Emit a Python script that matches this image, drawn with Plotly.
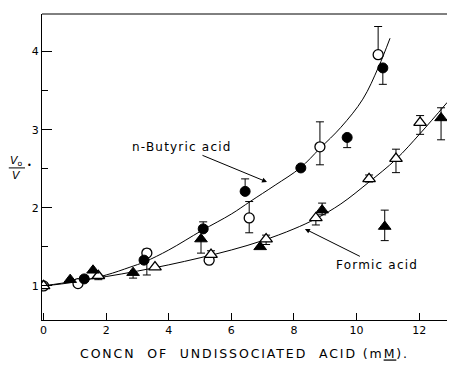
import plotly.graph_objects as go

# Filled circles: n-Butyric acid
bf_x = [1.3, 3.21, 5.1, 6.44, 8.22, 9.7, 10.84]
bf_y = [1.09, 1.33, 1.73, 2.21, 2.51, 2.90, 3.79]
bf_up = [0, 0, 0.09, 0.16, 0, 0, 0]
bf_dn = [0, 0, 0, 0, 0, 0.13, 0.21]

# Open circles: n-Butyric acid
bo_x = [0.0, 1.1, 3.3, 5.29, 6.57, 8.83, 10.69]
bo_y = [1.0, 1.03, 1.42, 1.33, 1.87, 2.78, 3.96]
bo_up = [0, 0, 0.05, 0, 0.21, 0.32, 0.36]
bo_dn = [0, 0, 0.28, 0, 0.19, 0.23, 0]

# Filled triangles: Formic acid
ff_x = [0.85, 1.58, 2.86, 5.03, 6.92, 8.9, 10.9, 12.7]
ff_y = [1.08, 1.20, 1.17, 1.60, 1.50, 1.97, 1.76, 3.15]
ff_up = [0, 0, 0, 0, 0, 0.09, 0.21, 0.13]
ff_dn = [0, 0, 0.07, 0.18, 0, 0.06, 0.18, 0.28]

# Open triangles: Formic acid
fo_x = [0.0, 1.75, 3.56, 5.35, 7.11, 8.7, 10.4, 11.26, 12.03]
fo_y = [1.0, 1.13, 1.24, 1.40, 1.60, 1.87, 2.37, 2.63, 3.09]
fo_up = [0, 0, 0, 0.05, 0.05, 0, 0.05, 0.12, 0.09]
fo_dn = [0, 0.05, 0, 0, 0.07, 0.09, 0.04, 0.18, 0.15]

# Fitted curves
bc_x = [0, 1, 2, 2.76, 3.24, 4, 5.06, 6, 6.6, 7.4, 8.2, 8.83, 9.5, 10.2, 10.7, 11.07]
bc_y = [1, 1.05, 1.14, 1.24, 1.31, 1.46, 1.71, 1.92, 2.08, 2.29, 2.51, 2.76, 3.03, 3.39, 3.8, 4.17]
fc_x = [0, 1, 2, 3, 4, 5, 6, 7, 8, 8.7, 9.5, 10.4, 11.26, 12.03, 12.9]
fc_y = [1, 1.06, 1.12, 1.19, 1.27, 1.36, 1.46, 1.58, 1.73, 1.86, 2.05, 2.33, 2.62, 2.95, 3.35]

x_ticks = [0, 2, 4, 6, 8, 10, 12]
y_ticks = [1, 2, 3, 4]

FONT = "DejaVu Sans"
fig = go.Figure()

fig.add_trace(go.Scatter(x=bc_x, y=bc_y, mode="lines", line=dict(color="black", width=1, shape="spline"), hoverinfo="skip"))
fig.add_trace(go.Scatter(x=fc_x, y=fc_y, mode="lines", line=dict(color="black", width=1, shape="spline"), hoverinfo="skip"))

def err(up, dn):
    return dict(type="data", symmetric=False, array=up, arrayminus=dn,
                color="black", thickness=1, width=4)

fig.add_trace(go.Scatter(x=bo_x, y=bo_y, mode="markers", error_y=err(bo_up, bo_dn),
                         marker=dict(symbol="circle", size=10, color="white", line=dict(color="black", width=1.3))))
fig.add_trace(go.Scatter(x=fo_x, y=fo_y, mode="markers", error_y=err(fo_up, fo_dn),
                         marker=dict(symbol="triangle-up", size=11, color="white", line=dict(color="black", width=1.3))))
fig.add_trace(go.Scatter(x=bf_x, y=bf_y, mode="markers", error_y=err(bf_up, bf_dn),
                         marker=dict(symbol="circle", size=10, color="black", line=dict(color="black", width=1))))
fig.add_trace(go.Scatter(x=ff_x, y=ff_y, mode="markers", error_y=err(ff_up, ff_dn),
                         marker=dict(symbol="triangle-up", size=11, color="black", line=dict(color="black", width=1))))

def spaced(t, px):
    return f'<span style="letter-spacing:{px}px">{t}</span>'

fig.update_layout(
    width=450, height=365,
    margin=dict(l=42, r=3, t=14, b=45),
    paper_bgcolor="white", plot_bgcolor="white",
    showlegend=False,
    font=dict(family=FONT, size=11, color="black"),
    xaxis=dict(range=[-0.05, 12.89], tickvals=x_ticks, ticktext=[str(v) for v in x_ticks],
               ticks="inside", ticklen=7, tickcolor="black", showgrid=False, zeroline=False,
               showline=True, linecolor="black", linewidth=1, mirror=False,
               tickfont=dict(family=FONT, size=11),
               title=dict(text=spaced("CONCN  OF  UNDISSOCIATED  ACID (m<u>M</u>).", 1.9),
                          font=dict(family=FONT, size=12.5), standoff=13)),
    yaxis=dict(range=[0.564, 4.48], tickvals=y_ticks, ticktext=[str(v) for v in y_ticks],
               ticks="inside", ticklen=10, tickcolor="black", showgrid=False, zeroline=False,
               showline=True, linecolor="black", linewidth=1,
               tickfont=dict(family=FONT, size=11),
               minor=dict(tickvals=[1.5, 2.5, 3.5], ticks="inside", ticklen=6, tickcolor="black")),
)

# top border
fig.add_shape(type="line", xref="paper", yref="paper", x0=0, x1=1, y0=1, y1=1, line=dict(color="black", width=1))

# y-axis label: V0 / V
fig.add_annotation(xref="paper", yref="paper", x=-0.062, y=0.52, text="<i>V</i><sub>o</sub>", showarrow=False,
                   font=dict(family=FONT, size=11), xanchor="center", yanchor="middle")
fig.add_shape(type="line", xref="paper", yref="paper", x0=-0.082, x1=-0.042, y0=0.497, y1=0.497,
              line=dict(color="black", width=1))
fig.add_annotation(xref="paper", yref="paper", x=-0.064, y=0.472, text="<i>V</i>", showarrow=False,
                   font=dict(family=FONT, size=11), xanchor="center", yanchor="middle")
fig.add_annotation(xref="paper", yref="paper", x=-0.03, y=0.505, text="•", showarrow=False,
                   font=dict(family=FONT, size=8), xanchor="center", yanchor="middle")

# curve labels with arrows (text placed at arrow tail)
fig.add_annotation(x=7.14, y=2.33, ax=4.42, ay=2.78, xref="x", yref="y", axref="x", ayref="y",
                   text=spaced("n-Butyric acid", 1.2), font=dict(family=FONT, size=12),
                   showarrow=True, arrowhead=2, arrowsize=1, arrowwidth=1, arrowcolor="black", standoff=0)
fig.add_annotation(x=8.35, y=1.73, ax=10.65, ay=1.27, xref="x", yref="y", axref="x", ayref="y",
                   text=spaced("Formic acid", 1.2), font=dict(family=FONT, size=12),
                   showarrow=True, arrowhead=2, arrowsize=1, arrowwidth=1, arrowcolor="black", standoff=0)

fig.write_html("out.html")
